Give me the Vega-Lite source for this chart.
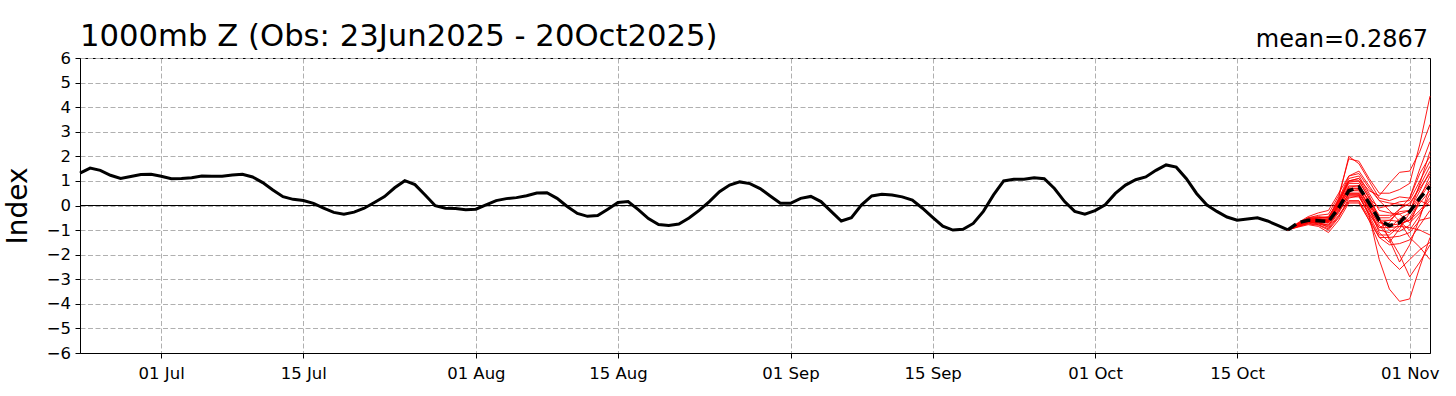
{
  "$schema": "https://vega.github.io/schema/vega-lite/v6.json",
  "width": 1350,
  "height": 295,
  "autosize": {"type": "none"},
  "padding": {"left": 80, "top": 58, "right": 26, "bottom": 43},
  "background": "white",
  "config": {
    "font": "DejaVu Sans",
    "view": {"stroke": "black", "strokeWidth": 1},
    "axis": {
      "labelFont": "DejaVu Sans",
      "labelFontSize": 16.5,
      "labelColor": "black",
      "tickColor": "black",
      "tickSize": 5,
      "tickWidth": 1,
      "domainColor": "black",
      "domainWidth": 1,
      "gridColor": "#b0b0b0",
      "gridDash": [5, 2.5],
      "gridWidth": 1,
      "titleFont": "DejaVu Sans",
      "titleColor": "black",
      "titleFontWeight": "normal"
    }
  },
  "title": {
    "text": "1000mb Z (Obs: 23Jun2025 - 20Oct2025)",
    "anchor": "start",
    "frame": "group",
    "fontSize": 30.7,
    "fontWeight": "normal",
    "color": "black",
    "font": "DejaVu Sans",
    "offset": 11,
    "dy": 36
  },
  "datasets": {
    "obs": [
      {"date": "2025-06-23", "value": 1.32}, {"date": "2025-06-24", "value": 1.52}, {"date": "2025-06-25", "value": 1.43}, {"date": "2025-06-26", "value": 1.23},
      {"date": "2025-06-27", "value": 1.1}, {"date": "2025-06-28", "value": 1.18}, {"date": "2025-06-29", "value": 1.26}, {"date": "2025-06-30", "value": 1.27},
      {"date": "2025-07-01", "value": 1.19}, {"date": "2025-07-02", "value": 1.09}, {"date": "2025-07-03", "value": 1.1}, {"date": "2025-07-04", "value": 1.13},
      {"date": "2025-07-05", "value": 1.2}, {"date": "2025-07-06", "value": 1.19}, {"date": "2025-07-07", "value": 1.19}, {"date": "2025-07-08", "value": 1.24},
      {"date": "2025-07-09", "value": 1.27}, {"date": "2025-07-10", "value": 1.16}, {"date": "2025-07-11", "value": 0.93}, {"date": "2025-07-12", "value": 0.63},
      {"date": "2025-07-13", "value": 0.36}, {"date": "2025-07-14", "value": 0.25}, {"date": "2025-07-15", "value": 0.2}, {"date": "2025-07-16", "value": 0.09},
      {"date": "2025-07-17", "value": -0.11}, {"date": "2025-07-18", "value": -0.28}, {"date": "2025-07-19", "value": -0.35}, {"date": "2025-07-20", "value": -0.27},
      {"date": "2025-07-21", "value": -0.11}, {"date": "2025-07-22", "value": 0.12}, {"date": "2025-07-23", "value": 0.36}, {"date": "2025-07-24", "value": 0.72},
      {"date": "2025-07-25", "value": 1.01}, {"date": "2025-07-26", "value": 0.85}, {"date": "2025-07-27", "value": 0.43}, {"date": "2025-07-28", "value": -0.01},
      {"date": "2025-07-29", "value": -0.11}, {"date": "2025-07-30", "value": -0.12}, {"date": "2025-07-31", "value": -0.17},
      {"date": "2025-08-01", "value": -0.15}, {"date": "2025-08-02", "value": 0.03}, {"date": "2025-08-03", "value": 0.2}, {"date": "2025-08-04", "value": 0.28},
      {"date": "2025-08-05", "value": 0.32}, {"date": "2025-08-06", "value": 0.4}, {"date": "2025-08-07", "value": 0.51}, {"date": "2025-08-08", "value": 0.52},
      {"date": "2025-08-09", "value": 0.29}, {"date": "2025-08-10", "value": -0.04}, {"date": "2025-08-11", "value": -0.32}, {"date": "2025-08-12", "value": -0.44},
      {"date": "2025-08-13", "value": -0.41}, {"date": "2025-08-14", "value": -0.15}, {"date": "2025-08-15", "value": 0.12}, {"date": "2025-08-16", "value": 0.16},
      {"date": "2025-08-17", "value": -0.17}, {"date": "2025-08-18", "value": -0.53}, {"date": "2025-08-19", "value": -0.77}, {"date": "2025-08-20", "value": -0.81},
      {"date": "2025-08-21", "value": -0.75}, {"date": "2025-08-22", "value": -0.51}, {"date": "2025-08-23", "value": -0.2}, {"date": "2025-08-24", "value": 0.16},
      {"date": "2025-08-25", "value": 0.56}, {"date": "2025-08-26", "value": 0.83}, {"date": "2025-08-27", "value": 0.96}, {"date": "2025-08-28", "value": 0.89},
      {"date": "2025-08-29", "value": 0.69}, {"date": "2025-08-30", "value": 0.39}, {"date": "2025-08-31", "value": 0.09},
      {"date": "2025-09-01", "value": 0.09}, {"date": "2025-09-02", "value": 0.29}, {"date": "2025-09-03", "value": 0.37}, {"date": "2025-09-04", "value": 0.16},
      {"date": "2025-09-05", "value": -0.24}, {"date": "2025-09-06", "value": -0.63}, {"date": "2025-09-07", "value": -0.5}, {"date": "2025-09-08", "value": 0.03},
      {"date": "2025-09-09", "value": 0.39}, {"date": "2025-09-10", "value": 0.46}, {"date": "2025-09-11", "value": 0.43}, {"date": "2025-09-12", "value": 0.35},
      {"date": "2025-09-13", "value": 0.22}, {"date": "2025-09-14", "value": -0.11}, {"date": "2025-09-15", "value": -0.48}, {"date": "2025-09-16", "value": -0.84},
      {"date": "2025-09-17", "value": -1.0}, {"date": "2025-09-18", "value": -0.97}, {"date": "2025-09-19", "value": -0.73}, {"date": "2025-09-20", "value": -0.24},
      {"date": "2025-09-21", "value": 0.43}, {"date": "2025-09-22", "value": 1.0}, {"date": "2025-09-23", "value": 1.07}, {"date": "2025-09-24", "value": 1.07},
      {"date": "2025-09-25", "value": 1.13}, {"date": "2025-09-26", "value": 1.09}, {"date": "2025-09-27", "value": 0.69}, {"date": "2025-09-28", "value": 0.16},
      {"date": "2025-09-29", "value": -0.24}, {"date": "2025-09-30", "value": -0.35},
      {"date": "2025-10-01", "value": -0.21}, {"date": "2025-10-02", "value": 0.03}, {"date": "2025-10-03", "value": 0.49}, {"date": "2025-10-04", "value": 0.83},
      {"date": "2025-10-05", "value": 1.05}, {"date": "2025-10-06", "value": 1.16}, {"date": "2025-10-07", "value": 1.43}, {"date": "2025-10-08", "value": 1.65},
      {"date": "2025-10-09", "value": 1.56}, {"date": "2025-10-10", "value": 1.09}, {"date": "2025-10-11", "value": 0.49}, {"date": "2025-10-12", "value": 0.03},
      {"date": "2025-10-13", "value": -0.24}, {"date": "2025-10-14", "value": -0.47}, {"date": "2025-10-15", "value": -0.6}, {"date": "2025-10-16", "value": -0.55},
      {"date": "2025-10-17", "value": -0.5}, {"date": "2025-10-18", "value": -0.63}, {"date": "2025-10-19", "value": -0.81}, {"date": "2025-10-20", "value": -0.99}
    ],
    "members": [
      {"date": "2025-10-20", "m01": -0.99, "m02": -0.99, "m03": -0.99, "m04": -0.99, "m05": -0.99, "m06": -0.99, "m07": -0.99, "m08": -0.99, "m09": -0.99, "m10": -0.99, "m11": -0.99, "m12": -0.99, "m13": -0.99, "m14": -0.99, "m15": -0.99, "m16": -0.99, "m17": -0.99, "m18": -0.99, "m19": -0.99, "m20": -0.99, "m21": -0.99, "m22": -0.99, "m23": -0.99, "m24": -0.99, "m25": -0.99},
      {"date": "2025-10-21", "m01": -0.85, "m02": -0.75, "m03": -0.8, "m04": -0.7, "m05": -0.85, "m06": -0.8, "m07": -0.78, "m08": -0.82, "m09": -0.76, "m10": -0.88, "m11": -0.72, "m12": -0.8, "m13": -0.84, "m14": -0.77, "m15": -0.81, "m16": -0.86, "m17": -0.74, "m18": -0.79, "m19": -0.83, "m20": -0.78, "m21": -0.8, "m22": -0.82, "m23": -0.76, "m24": -0.84, "m25": -0.79},
      {"date": "2025-10-22", "m01": -0.7, "m02": -0.5, "m03": -0.65, "m04": -0.45, "m05": -0.75, "m06": -0.6, "m07": -0.55, "m08": -0.68, "m09": -0.58, "m10": -0.78, "m11": -0.5, "m12": -0.62, "m13": -0.7, "m14": -0.56, "m15": -0.64, "m16": -0.72, "m17": -0.52, "m18": -0.6, "m19": -0.66, "m20": -0.6, "m21": -0.63, "m22": -0.67, "m23": -0.57, "m24": -0.69, "m25": -0.61},
      {"date": "2025-10-23", "m01": -0.65, "m02": -0.45, "m03": -0.7, "m04": -0.3, "m05": -0.8, "m06": -0.55, "m07": -0.5, "m08": -0.75, "m09": -0.55, "m10": -0.85, "m11": -0.4, "m12": -0.6, "m13": -0.68, "m14": -0.52, "m15": -0.62, "m16": -0.78, "m17": -0.48, "m18": -0.58, "m19": -0.64, "m20": -0.55, "m21": -0.62, "m22": -0.7, "m23": -0.5, "m24": -0.72, "m25": -0.6},
      {"date": "2025-10-24", "m01": -0.7, "m02": -0.5, "m03": -0.9, "m04": -0.2, "m05": -1.0, "m06": -0.6, "m07": -0.45, "m08": -0.85, "m09": -0.6, "m10": -1.1, "m11": -0.35, "m12": -0.62, "m13": -0.72, "m14": -0.5, "m15": -0.66, "m16": -0.95, "m17": -0.52, "m18": -0.6, "m19": -0.68, "m20": -0.58, "m21": -0.65, "m22": -0.8, "m23": -0.5, "m24": -0.8, "m25": -0.63},
      {"date": "2025-10-25", "m01": 0.1, "m02": 0.3, "m03": -0.4, "m04": 0.5, "m05": -0.5, "m06": 0.0, "m07": 0.2, "m08": -0.3, "m09": 0.1, "m10": -0.6, "m11": 0.4, "m12": -0.1, "m13": -0.2, "m14": 0.2, "m15": 0.0, "m16": -0.45, "m17": 0.25, "m18": 0.05, "m19": -0.15, "m20": 0.15, "m21": -0.05, "m22": -0.25, "m23": 0.2, "m24": -0.2, "m25": 0.0},
      {"date": "2025-10-26", "m01": 1.0, "m02": 2.0, "m03": 0.2, "m04": 1.2, "m05": 0.3, "m06": 0.7, "m07": 1.0, "m08": 0.4, "m09": 0.9, "m10": 0.1, "m11": 1.9, "m12": 0.6, "m13": 0.5, "m14": 1.1, "m15": 0.7, "m16": 0.15, "m17": 1.2, "m18": 0.8, "m19": 0.45, "m20": 0.95, "m21": 0.6, "m22": 0.35, "m23": 1.0, "m24": 0.5, "m25": 0.75},
      {"date": "2025-10-27", "m01": 1.0, "m02": 1.7, "m03": 0.2, "m04": 1.3, "m05": 0.4, "m06": 0.7, "m07": 1.1, "m08": 0.4, "m09": 0.9, "m10": 0.1, "m11": 1.8, "m12": 0.6, "m13": 0.5, "m14": 1.2, "m15": 0.7, "m16": 0.15, "m17": 1.4, "m18": 0.8, "m19": 0.45, "m20": 1.0, "m21": 0.65, "m22": 0.35, "m23": 1.1, "m24": 0.5, "m25": 0.8},
      {"date": "2025-10-28", "m01": 0.3, "m02": 1.0, "m03": -0.5, "m04": 0.7, "m05": -0.4, "m06": -0.1, "m07": 0.6, "m08": -0.3, "m09": 0.1, "m10": -0.6, "m11": 1.1, "m12": -0.2, "m13": -0.1, "m14": 0.5, "m15": 0.0, "m16": -0.6, "m17": 0.8, "m18": 0.2, "m19": -0.4, "m20": 0.3, "m21": 0.0, "m22": -0.35, "m23": 0.4, "m24": -0.2, "m25": 0.15},
      {"date": "2025-10-29", "m01": -0.6, "m02": 0.3, "m03": -1.3, "m04": 0.2, "m05": -2.2, "m06": -1.1, "m07": 0.4, "m08": -1.0, "m09": -0.6, "m10": -1.6, "m11": 0.5, "m12": -0.9, "m13": -0.8, "m14": -0.2, "m15": -0.5, "m16": -1.3, "m17": 0.2, "m18": -0.4, "m19": -1.2, "m20": -0.1, "m21": -0.7, "m22": -0.9, "m23": -0.5, "m24": -0.7, "m25": -0.6},
      {"date": "2025-10-30", "m01": -1.0, "m02": 0.2, "m03": -1.6, "m04": 0.1, "m05": -3.4, "m06": -1.5, "m07": 0.9, "m08": -1.1, "m09": -0.6, "m10": -2.2, "m11": 0.5, "m12": -0.9, "m13": -1.3, "m14": -0.3, "m15": -0.5, "m16": -1.3, "m17": -0.2, "m18": -0.4, "m19": -1.2, "m20": 0.0, "m21": -0.8, "m22": -0.7, "m23": -1.4, "m24": -0.6, "m25": -0.9},
      {"date": "2025-10-31", "m01": -1.05, "m02": 0.35, "m03": -1.55, "m04": 0.05, "m05": -3.9, "m06": -0.95, "m07": 1.35, "m08": -0.75, "m09": -0.25, "m10": -2.6, "m11": 0.65, "m12": -0.55, "m13": -2.0, "m14": -0.35, "m15": -0.15, "m16": -1.25, "m17": -0.65, "m18": -0.35, "m19": -0.85, "m20": 0.15, "m21": -0.75, "m22": -0.15, "m23": -2.3, "m24": -0.65, "m25": -0.85},
      {"date": "2025-11-01", "m01": -0.8, "m02": 0.3, "m03": -1.4, "m04": 0.0, "m05": -3.8, "m06": -0.3, "m07": 1.4, "m08": -0.6, "m09": -0.2, "m10": -2.2, "m11": 0.9, "m12": -0.3, "m13": -2.9, "m14": -0.7, "m15": 0.3, "m16": -1.1, "m17": -1.0, "m18": -0.2, "m19": -0.9, "m20": 0.2, "m21": -0.6, "m22": 0.1, "m23": -1.6, "m24": -1.3, "m25": -0.5},
      {"date": "2025-11-02", "m01": 0.3, "m02": 1.5, "m03": -0.8, "m04": 0.8, "m05": -2.5, "m06": 0.9, "m07": 2.2, "m08": -0.2, "m09": 0.4, "m10": -1.8, "m11": 2.5, "m12": 0.3, "m13": -2.3, "m14": -0.3, "m15": 1.3, "m16": -0.6, "m17": -0.4, "m18": 0.6, "m19": -1.0, "m20": 1.0, "m21": 0.1, "m22": 0.7, "m23": -0.5, "m24": -1.7, "m25": 0.2},
      {"date": "2025-11-03", "m01": 1.2, "m02": 2.6, "m03": -0.2, "m04": 1.6, "m05": -1.3, "m06": 2.2, "m07": 3.3, "m08": 0.3, "m09": 1.0, "m10": -1.5, "m11": 4.45, "m12": 0.9, "m13": -1.6, "m14": 0.2, "m15": 2.0, "m16": -0.5, "m17": 0.5, "m18": 1.4, "m19": -1.2, "m20": 1.8, "m21": 0.6, "m22": 1.3, "m23": 0.8, "m24": -2.2, "m25": 0.0}
    ],
    "ensmean": [
      {"date": "2025-10-20", "value": -0.99}, {"date": "2025-10-21", "value": -0.7}, {"date": "2025-10-22", "value": -0.6},
      {"date": "2025-10-23", "value": -0.62}, {"date": "2025-10-24", "value": -0.65}, {"date": "2025-10-25", "value": -0.1},
      {"date": "2025-10-26", "value": 0.6}, {"date": "2025-10-27", "value": 0.75}, {"date": "2025-10-28", "value": 0.1},
      {"date": "2025-10-29", "value": -0.6}, {"date": "2025-10-30", "value": -0.82}, {"date": "2025-10-31", "value": -0.7},
      {"date": "2025-11-01", "value": -0.25}, {"date": "2025-11-02", "value": 0.3}, {"date": "2025-11-03", "value": 0.78}
    ]
  },
  "layer": [
    {
      "data": {"name": "obs"},
      "mark": {"type": "line", "color": "black", "strokeWidth": 3, "opacity": 0},
      "encoding": {
        "x": {
          "field": "date", "type": "temporal",
          "scale": {"type": "utc", "domain": [{"year": 2025, "month": 6, "date": 23, "utc": true}, {"year": 2025, "month": 11, "date": 3, "utc": true}]},
          "axis": {
            "title": null, "format": "%d %b", "labelFlush": false, "labelOverlap": false, "labelPadding": 7, "grid": true,
            "values": [
              {"year": 2025, "month": 7, "date": 1, "utc": true}, {"year": 2025, "month": 7, "date": 15, "utc": true},
              {"year": 2025, "month": 8, "date": 1, "utc": true}, {"year": 2025, "month": 8, "date": 15, "utc": true},
              {"year": 2025, "month": 9, "date": 1, "utc": true}, {"year": 2025, "month": 9, "date": 15, "utc": true},
              {"year": 2025, "month": 10, "date": 1, "utc": true}, {"year": 2025, "month": 10, "date": 15, "utc": true},
              {"year": 2025, "month": 11, "date": 1, "utc": true}
            ]
          }
        },
        "y": {
          "field": "value", "type": "quantitative",
          "scale": {"domain": [-6, 6], "nice": false, "zero": false},
          "axis": {
            "title": "Index", "titleFontSize": 28, "titlePadding": 14, "labelPadding": 4.5, "labelOverlap": false, "grid": true, "tickCount": 13,
            "values": [-6, -5, -4, -3, -2, -1, 0, 1, 2, 3, 4, 5, 6]
          }
        }
      }
    },
    {
      "data": {"values": [{"ref": 0}]},
      "mark": {"type": "rule", "color": "black", "strokeWidth": 1},
      "encoding": {
        "y": {
          "datum": 0, "type": "quantitative",
          "axis": {
            "title": "Index", "titleFontSize": 28, "titlePadding": 14, "labelPadding": 4.5, "labelOverlap": false, "grid": true, "tickCount": 13,
            "values": [-6, -5, -4, -3, -2, -1, 0, 1, 2, 3, 4, 5, 6]
          }
        }
      }
    },
    {
      "data": {"name": "members"},
      "transform": [
        {"fold": ["m01", "m02", "m03", "m04", "m05", "m06", "m07", "m08", "m09", "m10", "m11", "m12", "m13", "m14", "m15", "m16", "m17", "m18", "m19", "m20", "m21", "m22", "m23", "m24", "m25"], "as": ["member", "value"]}
      ],
      "mark": {"type": "line", "color": "#ff0000", "strokeWidth": 1, "opacity": 0.9},
      "encoding": {
        "x": {
          "field": "date", "type": "temporal",
          "axis": {
            "title": null, "format": "%d %b", "labelFlush": false, "labelOverlap": false, "labelPadding": 7, "grid": true,
            "values": [
              {"year": 2025, "month": 7, "date": 1, "utc": true}, {"year": 2025, "month": 7, "date": 15, "utc": true},
              {"year": 2025, "month": 8, "date": 1, "utc": true}, {"year": 2025, "month": 8, "date": 15, "utc": true},
              {"year": 2025, "month": 9, "date": 1, "utc": true}, {"year": 2025, "month": 9, "date": 15, "utc": true},
              {"year": 2025, "month": 10, "date": 1, "utc": true}, {"year": 2025, "month": 10, "date": 15, "utc": true},
              {"year": 2025, "month": 11, "date": 1, "utc": true}
            ]
          }
        },
        "y": {
          "field": "value", "type": "quantitative",
          "axis": {
            "title": "Index", "titleFontSize": 28, "titlePadding": 14, "labelPadding": 4.5, "labelOverlap": false, "grid": true, "tickCount": 13,
            "values": [-6, -5, -4, -3, -2, -1, 0, 1, 2, 3, 4, 5, 6]
          }
        },
        "detail": {"field": "member", "type": "nominal"}
      }
    },
    {
      "data": {"name": "obs"},
      "mark": {"type": "line", "color": "black", "strokeWidth": 3},
      "encoding": {
        "x": {
          "field": "date", "type": "temporal",
          "axis": {
            "title": null, "format": "%d %b", "labelFlush": false, "labelOverlap": false, "labelPadding": 7, "grid": true,
            "values": [
              {"year": 2025, "month": 7, "date": 1, "utc": true}, {"year": 2025, "month": 7, "date": 15, "utc": true},
              {"year": 2025, "month": 8, "date": 1, "utc": true}, {"year": 2025, "month": 8, "date": 15, "utc": true},
              {"year": 2025, "month": 9, "date": 1, "utc": true}, {"year": 2025, "month": 9, "date": 15, "utc": true},
              {"year": 2025, "month": 10, "date": 1, "utc": true}, {"year": 2025, "month": 10, "date": 15, "utc": true},
              {"year": 2025, "month": 11, "date": 1, "utc": true}
            ]
          }
        },
        "y": {
          "field": "value", "type": "quantitative",
          "axis": {
            "title": "Index", "titleFontSize": 28, "titlePadding": 14, "labelPadding": 4.5, "labelOverlap": false, "grid": true, "tickCount": 13,
            "values": [-6, -5, -4, -3, -2, -1, 0, 1, 2, 3, 4, 5, 6]
          }
        }
      }
    },
    {
      "data": {"name": "ensmean"},
      "mark": {"type": "line", "color": "black", "strokeWidth": 3.5, "strokeDash": [10, 5]},
      "encoding": {
        "x": {
          "field": "date", "type": "temporal",
          "axis": {
            "title": null, "format": "%d %b", "labelFlush": false, "labelOverlap": false, "labelPadding": 7, "grid": true,
            "values": [
              {"year": 2025, "month": 7, "date": 1, "utc": true}, {"year": 2025, "month": 7, "date": 15, "utc": true},
              {"year": 2025, "month": 8, "date": 1, "utc": true}, {"year": 2025, "month": 8, "date": 15, "utc": true},
              {"year": 2025, "month": 9, "date": 1, "utc": true}, {"year": 2025, "month": 9, "date": 15, "utc": true},
              {"year": 2025, "month": 10, "date": 1, "utc": true}, {"year": 2025, "month": 10, "date": 15, "utc": true},
              {"year": 2025, "month": 11, "date": 1, "utc": true}
            ]
          }
        },
        "y": {
          "field": "value", "type": "quantitative",
          "axis": {
            "title": "Index", "titleFontSize": 28, "titlePadding": 14, "labelPadding": 4.5, "labelOverlap": false, "grid": true, "tickCount": 13,
            "values": [-6, -5, -4, -3, -2, -1, 0, 1, 2, 3, 4, 5, 6]
          }
        }
      }
    },
    {
      "data": {"values": [{"label": "mean=0.2867"}]},
      "mark": {"type": "text", "align": "right", "baseline": "alphabetic", "fontSize": 24, "font": "DejaVu Sans", "color": "black", "dy": -11, "dx": -2},
      "encoding": {
        "x": {
          "datum": {"year": 2025, "month": 11, "date": 3, "utc": true}, "type": "temporal",
          "axis": {
            "title": null, "format": "%d %b", "labelFlush": false, "labelOverlap": false, "labelPadding": 7, "grid": true,
            "values": [
              {"year": 2025, "month": 7, "date": 1, "utc": true}, {"year": 2025, "month": 7, "date": 15, "utc": true},
              {"year": 2025, "month": 8, "date": 1, "utc": true}, {"year": 2025, "month": 8, "date": 15, "utc": true},
              {"year": 2025, "month": 9, "date": 1, "utc": true}, {"year": 2025, "month": 9, "date": 15, "utc": true},
              {"year": 2025, "month": 10, "date": 1, "utc": true}, {"year": 2025, "month": 10, "date": 15, "utc": true},
              {"year": 2025, "month": 11, "date": 1, "utc": true}
            ]
          }
        },
        "y": {
          "datum": 6, "type": "quantitative",
          "axis": {
            "title": "Index", "titleFontSize": 28, "titlePadding": 14, "labelPadding": 4.5, "labelOverlap": false, "grid": true, "tickCount": 13,
            "values": [-6, -5, -4, -3, -2, -1, 0, 1, 2, 3, 4, 5, 6]
          }
        },
        "text": {"field": "label", "type": "nominal"}
      }
    }
  ]
}
